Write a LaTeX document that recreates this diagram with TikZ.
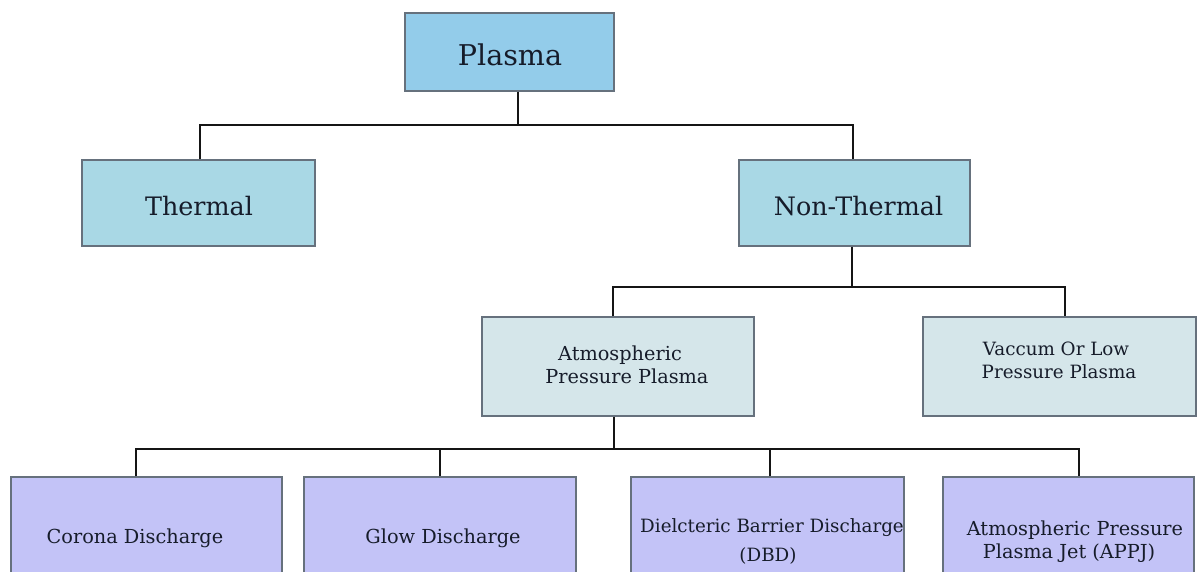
\documentclass[tikz,border=0pt]{standalone}
\usepackage{fontspec}
\setmainfont{DejaVu Serif}
\definecolor{ink}{HTML}{161C2A}
\definecolor{wire}{HTML}{151515}
\definecolor{boxline}{HTML}{66717D}
\definecolor{topfill}{HTML}{93CCEA}
\definecolor{midfill}{HTML}{A9D8E5}
\definecolor{lowfill}{HTML}{D5E6EA}
\definecolor{leaffill}{HTML}{C3C3F7}
\begin{document}
\begin{tikzpicture}[x=1pt,y=-1pt,
  box/.style={draw=boxline, line width=1.3pt, inner sep=0pt, rectangle},
  conn/.style={draw=wire, line width=2.7pt},
  txt/.style={inner sep=0pt, text=ink, anchor=base},
  fa/.style={font=\fontsize{28.6}{32}\selectfont},
  fb/.style={font=\fontsize{25.4}{30}\selectfont},
  fc/.style={font=\fontsize{19.3}{23}\selectfont},
  fd/.style={font=\fontsize{18.3}{22}\selectfont}]
\useasboundingbox (0,0) rectangle (1199,572);
\clip (0,0) rectangle (1199,572);
\fill[white] (0,0) rectangle (1199,572);

% boxes
\node[box, fill=topfill, minimum width=209pt, minimum height=78pt] (plasma) at (509.5,52) {};
\node[box, fill=midfill, minimum width=233pt, minimum height=86pt] (thermal) at (198.5,203) {};
\node[box, fill=midfill, minimum width=231pt, minimum height=86pt] (nonthermal) at (854.5,203) {};
\node[box, fill=lowfill, minimum width=272pt, minimum height=99pt] (atm) at (618,366.5) {};
\node[box, fill=lowfill, minimum width=273pt, minimum height=99pt] (vac) at (1059.5,366.5) {};
\node[box, fill=leaffill, minimum width=271pt, minimum height=163pt] (corona) at (146.5,558.5) {};
\node[box, fill=leaffill, minimum width=272pt, minimum height=163pt] (glow) at (440,558.5) {};
\node[box, fill=leaffill, minimum width=273pt, minimum height=163pt] (dbd) at (767.5,558.5) {};
\node[box, fill=leaffill, minimum width=251pt, minimum height=163pt] (appj) at (1068.5,558.5) {};

% texts
\node[txt, fa] (plasma-t) at (510,66) {Plasma};
\node[txt, fb] (thermal-t) at (199,215) {Thermal};
\node[txt, fb] (nonthermal-t) at (858.5,215) {Non-Thermal};
\node[txt, fc] (atm-t1) at (620,360) {Atmospheric};
\node[txt, fc] (atm-t2) at (627,383) {Pressure Plasma};
\node[txt, fd] (vac-t1) at (1056,355) {Vaccum Or Low};
\node[txt, fd] (vac-t2) at (1059,378) {Pressure Plasma};
\node[txt, fc] (corona-t) at (135,543) {Corona Discharge};
\node[txt, fc] (glow-t) at (443,543) {Glow Discharge};
\node[txt, fd] (dbd-t1) at (772,532) {Dielcteric Barrier Discharge};
\node[txt, fd] (dbd-t2) at (768,561) {(DBD)};
\node[txt, fc] (appj-t1) at (1075,535) {Atmospheric Pressure};
\node[txt, fc] (appj-t2) at (1069,558) {Plasma Jet (APPJ)};

% connectors
\coordinate (j1) at (518,125);
\coordinate (j2) at (852,287);
\coordinate (j3) at (614,449);
\draw[conn] ([xshift=8.5pt]plasma.south) -- (j1);
\draw[conn] ([xshift=1.5pt]thermal.north) |- (j1) -| ([xshift=-1.5pt]nonthermal.north);
\draw[conn] ([xshift=-2.5pt]nonthermal.south) -- (j2);
\draw[conn] ([xshift=-5pt]atm.north) |- (j2) -| ([xshift=5.5pt]vac.north);
\draw[conn] ([xshift=-4pt]atm.south) -- (j3);
\draw[conn] ([xshift=-10.5pt]corona.north) |- (j3) -| ([xshift=10.5pt]appj.north);
\draw[conn] (glow.north) -- (glow.north |- j3);
\draw[conn] ([xshift=2.5pt]dbd.north) -- ([xshift=2.5pt]dbd.north |- j3);
\end{tikzpicture}
\end{document}
